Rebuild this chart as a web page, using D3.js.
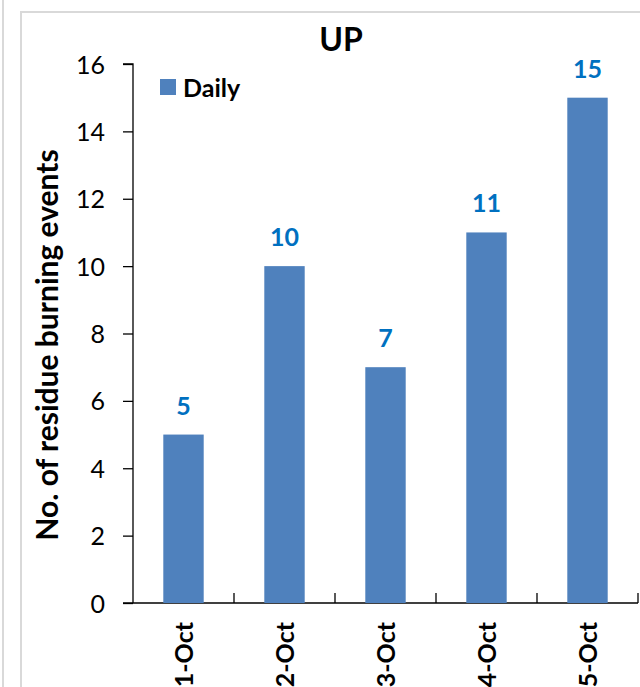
<!DOCTYPE html>
<html>
<head>
<meta charset="utf-8">
<script src="https://cdn.jsdelivr.net/npm/d3@7"></script>
<style>
  body { margin: 0; background: #fff; }
  svg { display: block; font-family: Lato, "Open Sans", sans-serif; }
</style>
</head>
<body>
<div id="chart"></div>
<script>
(() => {
    let days = ["1-Oct", "2-Oct", "3-Oct", "4-Oct", "5-Oct"];
    let daily = [5, 10, 7, 11, 15];
    let yTicks = [0, 2, 4, 6, 8, 10, 12, 14, 16];

    let w = 640;
    let h = 687;
    let svg = d3.select("#chart")
        .append("svg")
        .attr("width", w)
        .attr("height", h);

    // outer frames
    svg.append("line")
        .attr("x1", 3).attr("x2", 3)
        .attr("y1", 0).attr("y2", h)
        .attr("stroke", "#d9d9d9").attr("stroke-width", 2);
    svg.append("rect")
        .attr("x", 21).attr("y", 12)
        .attr("width", w).attr("height", h)
        .attr("fill", "none")
        .attr("stroke", "#d9d9d9").attr("stroke-width", 2);

    let left = 133, right = 638, top = 64, bottom = 603;

    let x = d3.scaleBand()
        .domain(days)
        .range([left, right])
        .paddingInner(0.6)
        .paddingOuter(0.3);

    let y = d3.scaleLinear()
        .domain([0, 16])
        .range([bottom, top]);

    // y axis
    let yAxis = svg.append("g")
        .attr("transform", "translate(" + left + ",0)")
        .call(d3.axisLeft(y).tickValues(yTicks).tickSize(10).tickPadding(18));
    yAxis.selectAll("path, line").attr("stroke", "#000").attr("stroke-width", 1.3);
    yAxis.selectAll("text")
        .attr("font-size", 25)
        .attr("font-family", "Lato, sans-serif")
        .attr("dy", "0.36em")
        .attr("fill", "#000");
    yAxis.select(".domain").attr("d", "M-10," + top + "H0V" + bottom);

    // x axis with inside ticks at category boundaries
    let step = (right - left) / days.length;
    svg.append("line")
        .attr("x1", left - 10).attr("x2", right)
        .attr("y1", bottom).attr("y2", bottom)
        .attr("stroke", "#000").attr("stroke-width", 1.3);
    svg.selectAll(".xtick")
        .data(d3.range(1, days.length + 1))
        .enter()
        .append("line")
        .attr("class", "xtick")
        .attr("x1", (d) => left + d * step)
        .attr("x2", (d) => left + d * step)
        .attr("y1", bottom)
        .attr("y2", bottom - 10)
        .attr("stroke", "#000").attr("stroke-width", 1.3);

    svg.selectAll(".xlabel")
        .data(days)
        .enter()
        .append("text")
        .attr("class", "xlabel")
        .attr("transform", (d) => "translate(" + (x(d) + x.bandwidth() / 2 + 9) + "," + (bottom + 19) + ") rotate(-90)")
        .attr("text-anchor", "end")
        .attr("font-size", 25)
        .attr("font-weight", "bold")
        .text((d) => d);

    // bars
    svg.selectAll("rect.bar")
        .data(daily)
        .enter()
        .append("rect")
        .attr("class", "bar")
        .attr("x", (d, i) => x(days[i]))
        .attr("y", (d) => y(d))
        .attr("width", x.bandwidth())
        .attr("height", (d) => bottom - y(d))
        .attr("fill", "#4f81bd");

    svg.selectAll(".val")
        .data(daily)
        .enter()
        .append("text")
        .attr("class", "val")
        .attr("x", (d, i) => x(days[i]) + x.bandwidth() / 2)
        .attr("y", (d) => y(d) - 20)
        .attr("text-anchor", "middle")
        .attr("font-size", 25)
        .attr("font-weight", "bold")
        .attr("fill", "#0070c0")
        .text((d) => d);

    // title
    svg.append("text")
        .attr("x", 341).attr("y", 51)
        .attr("text-anchor", "middle")
        .attr("font-size", 32)
        .attr("font-weight", "bold")
        .text("UP");

    // y axis title
    svg.append("text")
        .attr("transform", "translate(58,345) rotate(-90)")
        .attr("text-anchor", "middle")
        .attr("font-size", 30)
        .attr("font-weight", "bold")
        .text("No. of residue burning events");

    // legend
    svg.append("rect")
        .attr("x", 160).attr("y", 79)
        .attr("width", 16).attr("height", 16)
        .attr("fill", "#4f81bd");
    svg.append("text")
        .attr("x", 183).attr("y", 97)
        .attr("font-size", 25)
        .attr("font-weight", "bold")
        .text("Daily");
})();
</script>
</body>
</html>
